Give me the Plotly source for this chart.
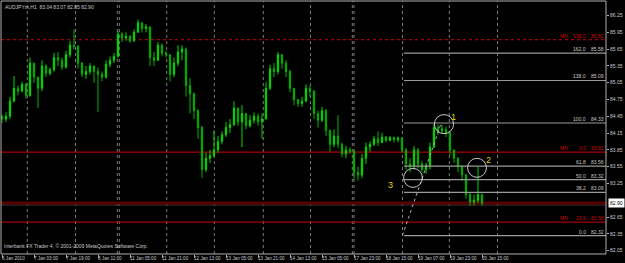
import plotly.graph_objects as go

# ---------------- data ----------------
first_open = 84.45
closes = [
    84.40, 84.45, 84.72, 84.95, 84.90, 85.02, 84.82, 85.40, 85.15, 84.95,
    85.35, 85.22, 85.28, 85.50, 85.45, 85.33, 85.55, 85.72, 85.70, 85.40,
    85.20, 85.25, 85.35, 85.25, 85.20, 85.15, 85.38, 85.45, 85.52, 85.92,
    85.85, 85.88, 85.80, 85.95, 86.12, 86.02, 86.05, 85.50, 85.45, 85.72,
    85.58, 85.55, 85.20, 85.40, 85.60, 85.65, 85.00, 84.85, 84.55, 84.25,
    83.50, 83.70, 83.75, 83.85, 84.00, 84.12, 84.25, 84.30, 84.60, 84.35,
    84.50, 84.28, 84.38, 84.45, 84.35, 84.40, 84.95, 85.30, 85.25, 85.55,
    85.40, 85.25, 84.95, 84.75, 84.68, 84.72, 84.95, 84.90, 84.50, 84.38,
    84.55, 84.20, 83.95, 84.10, 83.95, 83.78, 83.85, 83.82, 83.45, 83.40,
    83.70, 83.90, 83.95, 84.05, 83.98, 84.08, 84.02, 84.07, 84.03, 84.06,
    83.85, 83.60, 83.55, 83.85, 83.60, 83.50, 83.55, 83.90, 84.25, 84.20,
    84.22, 84.15, 83.85, 83.70, 83.55, 83.40, 83.05, 82.92, 82.95, 83.05,
    82.90]
highs = [
    84.48, 84.52, 84.80, 85.17, 85.00, 85.07, 85.05, 85.50, 85.40, 85.15,
    85.45, 85.38, 85.32, 85.58, 85.60, 85.50, 85.62, 85.80, 86.00, 85.72,
    85.42, 85.35, 85.40, 85.35, 85.32, 85.25, 85.45, 85.52, 85.58, 85.98,
    85.95, 85.95, 85.90, 86.00, 86.18, 86.12, 86.10, 86.05, 85.60, 85.78,
    85.75, 85.62, 85.55, 85.50, 85.72, 85.72, 85.68, 85.13, 84.88, 84.58,
    84.28, 83.80, 83.85, 84.20, 84.10, 84.18, 84.35, 84.40, 84.72, 84.60,
    84.65, 84.50, 84.47, 84.52, 84.50, 84.50, 85.06, 85.37, 85.40, 85.60,
    85.55, 85.45, 85.28, 84.95, 84.75, 84.80, 85.02, 85.00, 84.92, 84.55,
    84.62, 84.58, 84.20, 84.22, 84.47, 83.98, 83.92, 83.90, 83.85, 83.55,
    83.78, 83.98, 84.00, 84.10, 84.18, 84.15, 84.10, 84.10, 84.09, 84.09,
    84.08, 83.88, 83.70, 83.92, 83.88, 83.65, 83.62, 83.98, 84.32, 84.30,
    84.30, 84.27, 84.18, 83.85, 83.72, 83.58, 83.42, 83.08, 83.05, 83.55,
    83.07]
lows = [
    84.33, 84.35, 84.40, 84.70, 84.83, 84.88, 84.76, 84.80, 85.05, 84.60,
    84.90, 85.15, 85.18, 85.25, 85.35, 85.28, 85.30, 85.50, 85.65, 85.30,
    85.15, 85.12, 85.20, 85.05, 84.53, 85.08, 85.12, 85.33, 85.40, 85.50,
    85.78, 85.80, 85.76, 85.78, 85.95, 85.95, 85.95, 85.35, 85.35, 85.45,
    85.52, 85.50, 85.07, 85.15, 85.35, 85.45, 84.80, 84.50, 84.40, 84.05,
    83.35, 83.45, 83.62, 83.72, 83.80, 83.95, 84.08, 84.15, 84.28, 84.28,
    83.90, 84.22, 84.25, 84.32, 84.28, 84.05, 84.40, 84.92, 85.15, 85.20,
    85.30, 85.15, 84.88, 84.65, 84.62, 84.62, 84.70, 84.80, 84.40, 84.25,
    84.35, 84.10, 83.82, 83.90, 83.88, 83.72, 83.70, 83.78, 83.31, 83.30,
    83.35, 83.60, 83.82, 83.92, 83.92, 83.98, 83.98, 84.00, 83.98, 83.99,
    83.80, 83.50, 83.45, 83.50, 83.52, 83.45, 83.42, 83.50, 83.88, 84.12,
    84.15, 84.08, 83.75, 83.62, 83.45, 83.30, 82.98, 82.85, 82.86, 82.90,
    82.85]
opens = [first_open] + closes[:-1]
bars = list(range(len(closes)))

separator_bars = [6.33, 18.38, 28.83, 29.33, 41.18, 53.08, 65.33, 77.13,
                  87.58, 88.0, 100.13, 111.83, 123.88]

time_labels = ["6 Jan 2010", "7 Jan 03:00", "7 Jan 19:00", "8 Jan 11:00",
               "11 Jan 05:00", "11 Jan 21:00", "12 Jan 13:00", "13 Jan 05:00",
               "13 Jan 21:00", "14 Jan 13:00", "15 Jan 05:00", "17 Jan 23:00",
               "18 Jan 15:00", "19 Jan 07:00", "19 Jan 23:00", "20 Jan 15:00"]
time_label_bars = [0, 8, 16, 24, 32, 40, 48, 56, 64, 72, 80, 88, 96, 104, 112, 120]

price_ticks = [82.05, 82.35, 82.65, 83.25, 83.55, 83.85, 84.15, 84.45,
               84.75, 85.05, 85.35, 85.65, 85.95, 86.25]

fib_levels = ["162.0", "138.0", "100.0", "61.8", "50.0", "38.2", "0.0"]
fib_prices = [85.58, 85.09, 84.33, 83.56, 83.32, 83.09, 82.32]
fib_start_bar = 100.5
fib_trend_bars = [100.1, 109.8]
fib_trend_prices = [82.32, 84.33]

mn_levels = ["138.0", "0.0", "23.6"]
mn_prices = [85.82, 83.81, 82.56]
mn_dash = ["dot", "solid", "solid"]

bid_price = 82.90
header = "AUDJPYm,H1  83.04 83.07 82.85 82.90"
footer = "Interbank FX Trader 4, \u00a9 2001-2009 MetaQuotes Software Corp."

wave_labels = ["1", "2", "3"]
wave_bars = [112.75, 121.5, 97.0]
wave_prices = [84.44, 83.67, 83.22]
circle_bars = [(108.1, 112.9), (116.4, 121.1), (100.4, 105.1)]
circle_prices = [(84.14, 84.48), (83.36, 83.70), (83.18, 83.52)]

X_RANGE = [-0.25, 151.0]
Y_RANGE = [81.99, 86.51]

FONT = "Liberation Sans"
TXT = "#c8c8c8"
GRID = "#7a7a7a"

fig = go.Figure()

fig.add_trace(go.Candlestick(
    x=bars, open=opens, high=highs, low=lows, close=closes,
    increasing=dict(line=dict(color="#00d800", width=1), fillcolor="#00ff00"),
    decreasing=dict(line=dict(color="#00b400", width=1), fillcolor="#008800"),
    whiskerwidth=0, showlegend=False, hoverinfo="skip"))

fig.add_trace(go.Scatter(
    x=fib_trend_bars, y=fib_trend_prices, mode="lines",
    line=dict(color="#b0b0b0", width=1, dash="dot"),
    showlegend=False, hoverinfo="skip"))

shapes = []
for sb in separator_bars:
    shapes.append(dict(type="line", xref="x", yref="paper", x0=sb, x1=sb, y0=0, y1=1,
                       line=dict(color=GRID, width=1, dash="dot"), layer="below"))
for p, d in zip(mn_prices, mn_dash):
    shapes.append(dict(type="line", xref="paper", yref="y", x0=0, x1=1, y0=p, y1=p,
                       line=dict(color="#a80000", width=1.2, dash=d), layer="below"))
# bid line
shapes.append(dict(type="line", xref="paper", yref="y", x0=0, x1=1, y0=bid_price - 0.035,
                   y1=bid_price - 0.035, line=dict(color="#3a3a3a", width=1.2), layer="below"))
shapes.append(dict(type="line", xref="paper", yref="y", x0=0, x1=1, y0=bid_price, y1=bid_price,
                   line=dict(color="#5a0000", width=3), layer="below"))
for p in fib_prices:
    shapes.append(dict(type="line", xref="x", yref="y", x0=fib_start_bar, x1=X_RANGE[1],
                       y0=p, y1=p, line=dict(color="#9a9a9a", width=1.2)))
for (x0, x1), (y0, y1) in zip(circle_bars, circle_prices):
    shapes.append(dict(type="circle", xref="x", yref="y", x0=x0, x1=x1, y0=y0, y1=y1,
                       line=dict(color="#c8c8c8", width=1)))
# plot border
shapes.append(dict(type="rect", xref="paper", yref="paper", x0=0, x1=1, y0=0, y1=1,
                   line=dict(color="#b0b0b0", width=1)))

ann = []
small = dict(family=FONT, size=5, color=TXT)
for lv, p in zip(fib_levels, fib_prices):
    ann.append(dict(x=1, xref="paper", y=p, yref="y", text=lv, xanchor="right", yanchor="bottom",
                    xshift=-19, showarrow=False, font=small, borderpad=0))
    ann.append(dict(x=1, xref="paper", y=p, yref="y", text=f"{p:.2f}", xanchor="right",
                    yanchor="bottom", xshift=-1, showarrow=False, font=small, borderpad=0))
red = dict(family=FONT, size=5, color="#d00000")
for lv, p in zip(mn_levels, mn_prices):
    ann.append(dict(x=1, xref="paper", y=p, yref="y", text="MN", xanchor="right",
                    yanchor="bottom", xshift=-37, showarrow=False, font=red, borderpad=0))
    ann.append(dict(x=1, xref="paper", y=p, yref="y", text=lv, xanchor="right",
                    yanchor="bottom", xshift=-19, showarrow=False, font=red, borderpad=0))
    ann.append(dict(x=1, xref="paper", y=p, yref="y", text=f"{p:.2f}", xanchor="right",
                    yanchor="bottom", xshift=-1, showarrow=False, font=red, borderpad=0))
for t, b in zip(time_labels, time_label_bars):
    ann.append(dict(x=b - 0.25, xref="x", y=0, yref="paper", text=t, xanchor="left",
                    yanchor="top", yshift=-1, showarrow=False, font=dict(family=FONT, size=4.6, color=TXT),
                    borderpad=0))
for t, b, p in zip(wave_labels, wave_bars, wave_prices):
    ann.append(dict(x=b, xref="x", y=p, yref="y", text=t, showarrow=False,
                    font=dict(family=FONT, size=9, color="#e0d000")))
ann.append(dict(x=0, xref="paper", y=1, yref="paper", text=header, xanchor="left", yanchor="top",
                xshift=3, yshift=-2, showarrow=False, font=small, borderpad=0))
ann.append(dict(x=0, xref="paper", y=0, yref="paper", text=footer, xanchor="left", yanchor="bottom",
                xshift=2, yshift=4, showarrow=False, font=small, borderpad=0))
ann.append(dict(x=1, xref="paper", y=bid_price, yref="y", text=f"{bid_price:.2f}", xanchor="left",
                yanchor="middle", xshift=2, showarrow=False,
                font=dict(family=FONT, size=5, color="#000000"), bgcolor="#ffffff", borderpad=1))

fig.update_layout(
    width=625, height=263,
    margin=dict(l=1, r=19, t=1, b=9),
    paper_bgcolor="#000000", plot_bgcolor="#000000",
    shapes=shapes, annotations=ann,
    boxgap=0.55,
    xaxis=dict(range=X_RANGE, showgrid=False, zeroline=False, showline=False,
               rangeslider=dict(visible=False), tickvals=time_label_bars, showticklabels=False,
               ticks="outside", ticklen=3, tickcolor="#b0b0b0"),
    yaxis=dict(range=Y_RANGE, side="right", showgrid=False, zeroline=False, showline=False,
               tickvals=price_ticks, ticktext=[f"{v:.2f}" for v in price_ticks],
               ticks="outside", ticklen=2, tickcolor="#b0b0b0",
               tickfont=dict(family=FONT, size=5, color=TXT)),
)

fig.write_html("out.html")
